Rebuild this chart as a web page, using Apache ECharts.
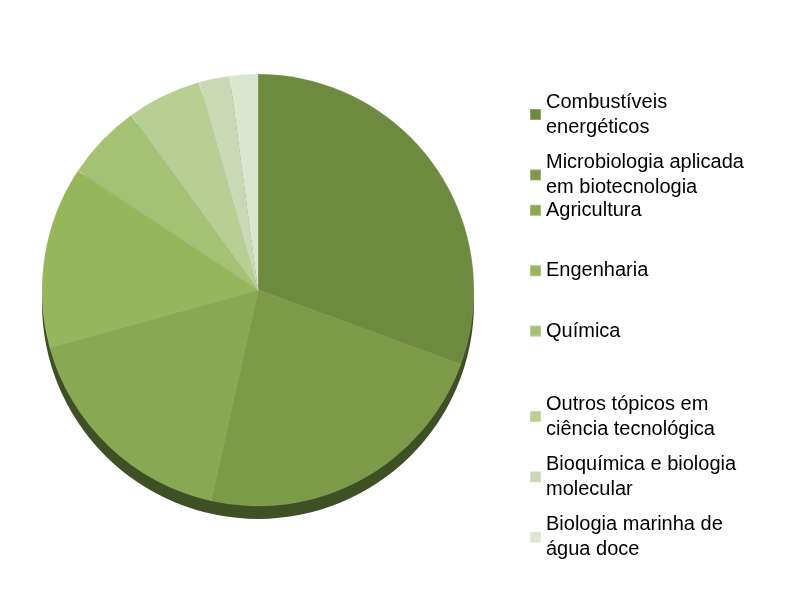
<!DOCTYPE html>
<html><head><meta charset="utf-8">
<script src="https://cdn.jsdelivr.net/npm/echarts@6/dist/echarts.min.js"></script>
<style>html,body{margin:0;background:#fff}#c{width:790px;height:610px}</style>
</head><body><div id="c"></div>
<script>
const categories = ["Combustíveis\nenergéticos","Microbiologia aplicada\nem biotecnologia","Agricultura","Engenharia","Química","Outros tópicos em\nciência tecnológica","Bioquímica e biologia\nmolecular","Biologia marinha de\nágua doce"];
const values = [30.6, 22.9, 17.2, 13.6, 5.7, 5.6, 2.3, 2.1];
const colors = ["#6e8a3f","#7c9a48","#89a852","#97b65c","#a5c274","#b8ce93","#cad9b3","#dce5cd"];
const chart = echarts.init(document.getElementById('c'));
const legends = categories.map((n,i)=>({
  data:[n], left:524, top:72+60.4*i, orient:'vertical',
  icon:'rect', itemWidth:11, itemHeight:11, selectedMode:false,
  textStyle:{fontFamily:'Liberation Sans, Arial', fontSize:20, color:'#000', lineHeight:25,
    padding: n.includes('\n') ? [0,0,25,0] : 0}
}));
chart.setOption({
  animation:false,
  legend: legends,
  series:[
    {type:'pie', silent:true, radius:216, center:[258,303], startAngle:90, clockwise:true,
     label:{show:false}, data:[{value:1, itemStyle:{color:'#3f5024'}}]},
    {type:'pie', radius:216, center:[258,290], startAngle:90, clockwise:true,
     label:{show:false}, labelLine:{show:false},
     itemStyle:{borderColor:'rgba(255,255,255,0.25)', borderWidth:0.5},
     data: categories.map((n,i)=>({name:n, value:values[i], itemStyle:{color:colors[i]}}))}
  ]
});
</script></body></html>
